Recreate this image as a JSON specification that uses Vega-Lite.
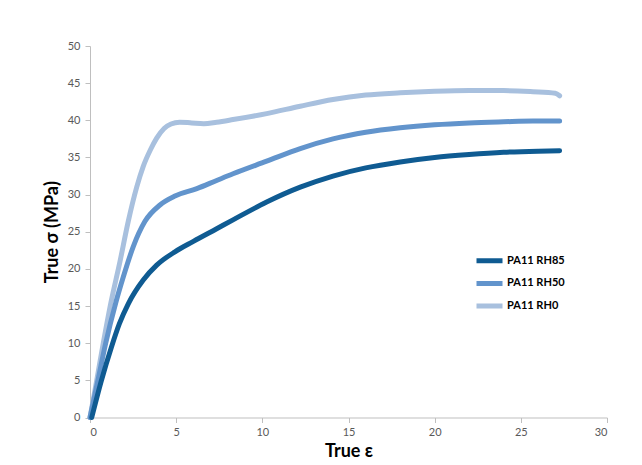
{
  "$schema": "https://vega.github.io/schema/vega-lite/v6.json",
  "width": 517,
  "height": 371.5,
  "autosize": {"type": "none"},
  "padding": {"left": 90, "top": 46, "right": 35, "bottom": 47.5},
  "background": "white",
  "config": {"view": {"stroke": null}, "font": "Lato"},
  "data": {
    "values": [
      {"series": "PA11 RH0", "strain": 0, "stress": 0},
      {"series": "PA11 RH0", "strain": 0.39, "stress": 5.0},
      {"series": "PA11 RH0", "strain": 0.77, "stress": 10.0},
      {"series": "PA11 RH0", "strain": 1.2, "stress": 15.3},
      {"series": "PA11 RH0", "strain": 1.74, "stress": 21.0},
      {"series": "PA11 RH0", "strain": 2.22, "stress": 26.4},
      {"series": "PA11 RH0", "strain": 2.71, "stress": 31.0},
      {"series": "PA11 RH0", "strain": 3.09, "stress": 33.8},
      {"series": "PA11 RH0", "strain": 3.5, "stress": 36.0},
      {"series": "PA11 RH0", "strain": 3.87, "stress": 37.6},
      {"series": "PA11 RH0", "strain": 4.3, "stress": 38.9},
      {"series": "PA11 RH0", "strain": 4.7, "stress": 39.5},
      {"series": "PA11 RH0", "strain": 5.2, "stress": 39.75},
      {"series": "PA11 RH0", "strain": 5.9, "stress": 39.65},
      {"series": "PA11 RH0", "strain": 6.6, "stress": 39.55},
      {"series": "PA11 RH0", "strain": 7.35, "stress": 39.75},
      {"series": "PA11 RH0", "strain": 8.3, "stress": 40.1},
      {"series": "PA11 RH0", "strain": 10.25, "stress": 40.9},
      {"series": "PA11 RH0", "strain": 12.2, "stress": 41.9},
      {"series": "PA11 RH0", "strain": 14.1, "stress": 42.8},
      {"series": "PA11 RH0", "strain": 16.0, "stress": 43.4},
      {"series": "PA11 RH0", "strain": 18.0, "stress": 43.7},
      {"series": "PA11 RH0", "strain": 20.0, "stress": 43.9},
      {"series": "PA11 RH0", "strain": 22.0, "stress": 44.0},
      {"series": "PA11 RH0", "strain": 24.0, "stress": 44.0},
      {"series": "PA11 RH0", "strain": 25.7, "stress": 43.85},
      {"series": "PA11 RH0", "strain": 27.0, "stress": 43.65},
      {"series": "PA11 RH0", "strain": 27.25, "stress": 43.3},
      {"series": "PA11 RH50", "strain": 0, "stress": 0},
      {"series": "PA11 RH50", "strain": 0.46, "stress": 5.0},
      {"series": "PA11 RH50", "strain": 0.91, "stress": 10.0},
      {"series": "PA11 RH50", "strain": 1.49, "stress": 15.4},
      {"series": "PA11 RH50", "strain": 1.93, "stress": 18.9},
      {"series": "PA11 RH50", "strain": 2.51, "stress": 23.0},
      {"series": "PA11 RH50", "strain": 3.19, "stress": 26.4},
      {"series": "PA11 RH50", "strain": 4.06, "stress": 28.6},
      {"series": "PA11 RH50", "strain": 4.93, "stress": 29.8},
      {"series": "PA11 RH50", "strain": 6.2, "stress": 30.8},
      {"series": "PA11 RH50", "strain": 7.35, "stress": 31.9},
      {"series": "PA11 RH50", "strain": 8.3, "stress": 32.8},
      {"series": "PA11 RH50", "strain": 10.25, "stress": 34.5},
      {"series": "PA11 RH50", "strain": 12.2, "stress": 36.2},
      {"series": "PA11 RH50", "strain": 14.1, "stress": 37.5},
      {"series": "PA11 RH50", "strain": 16.0, "stress": 38.4},
      {"series": "PA11 RH50", "strain": 18.0, "stress": 39.0},
      {"series": "PA11 RH50", "strain": 20.0, "stress": 39.4},
      {"series": "PA11 RH50", "strain": 22.0, "stress": 39.65},
      {"series": "PA11 RH50", "strain": 24.0, "stress": 39.8},
      {"series": "PA11 RH50", "strain": 25.7, "stress": 39.9},
      {"series": "PA11 RH50", "strain": 27.25, "stress": 39.9},
      {"series": "PA11 RH85", "strain": 0.1, "stress": 0},
      {"series": "PA11 RH85", "strain": 0.64, "stress": 4.8},
      {"series": "PA11 RH85", "strain": 1.26, "stress": 9.6},
      {"series": "PA11 RH85", "strain": 1.7, "stress": 12.6},
      {"series": "PA11 RH85", "strain": 2.22, "stress": 15.3},
      {"series": "PA11 RH85", "strain": 3.09, "stress": 18.5},
      {"series": "PA11 RH85", "strain": 3.87, "stress": 20.5},
      {"series": "PA11 RH85", "strain": 4.93, "stress": 22.3},
      {"series": "PA11 RH85", "strain": 6.0, "stress": 23.7},
      {"series": "PA11 RH85", "strain": 7.35, "stress": 25.4},
      {"series": "PA11 RH85", "strain": 8.3, "stress": 26.6},
      {"series": "PA11 RH85", "strain": 10.25, "stress": 29.0},
      {"series": "PA11 RH85", "strain": 12.2, "stress": 31.0},
      {"series": "PA11 RH85", "strain": 14.1, "stress": 32.5},
      {"series": "PA11 RH85", "strain": 16.0, "stress": 33.6},
      {"series": "PA11 RH85", "strain": 18.0, "stress": 34.4},
      {"series": "PA11 RH85", "strain": 20.0, "stress": 35.0},
      {"series": "PA11 RH85", "strain": 22.0, "stress": 35.4},
      {"series": "PA11 RH85", "strain": 24.0, "stress": 35.7},
      {"series": "PA11 RH85", "strain": 26.0, "stress": 35.85},
      {"series": "PA11 RH85", "strain": 27.25, "stress": 35.9}
    ]
  },
  "mark": {"type": "line", "interpolate": "monotone", "strokeWidth": 5, "strokeCap": "round", "strokeJoin": "round"},
  "encoding": {
    "x": {
      "field": "strain", "type": "quantitative",
      "scale": {"domain": [0, 30], "nice": false, "zero": true},
      "axis": {
        "title": "True ε", "values": [0, 5, 10, 15, 20, 25, 30],
        "grid": false, "domainColor": "#bfbfbf", "tickColor": "#bfbfbf", "tickSize": 5,
        "labelFont": "Lato", "labelFontSize": 11, "labelColor": "#595959", "labelPadding": 4,
        "titleFont": "Lato", "titleFontSize": 18, "titleFontWeight": "bold", "titleColor": "#000000",
        "titleY": 25, "titleBaseline": "top"
      }
    },
    "y": {
      "field": "stress", "type": "quantitative",
      "scale": {"domain": [0, 50], "nice": false},
      "axis": {
        "title": "True σ (MPa)", "values": [0, 5, 10, 15, 20, 25, 30, 35, 40, 45, 50],
        "grid": false, "domainColor": "#bfbfbf", "tickColor": "#bfbfbf", "tickSize": 5,
        "labelFont": "Lato", "labelFontSize": 11, "labelColor": "#595959", "labelPadding": 5,
        "titleFont": "Lato", "titleFontSize": 18, "titleFontWeight": "bold", "titleColor": "#000000",
        "titleX": -33, "titleY": 185.75, "titleAngle": -90, "titleBaseline": "alphabetic", "titleAlign": "center"
      }
    },
    "color": {
      "field": "series", "type": "nominal",
      "scale": {"domain": ["PA11 RH85", "PA11 RH50", "PA11 RH0"], "range": ["#0f5b92", "#6294cc", "#a8c0de"]},
      "legend": {
        "title": null, "orient": "none", "legendX": 384, "legendY": 206.7, "padding": 0,
        "symbolType": "stroke", "symbolSize": 676, "symbolStrokeWidth": 5,
        "labelFont": "Lato", "labelFontSize": 11, "labelFontWeight": "bold", "labelColor": "#000000",
        "labelOffset": 2, "clipHeight": 16, "rowPadding": 6.7
      }
    }
  }
}
